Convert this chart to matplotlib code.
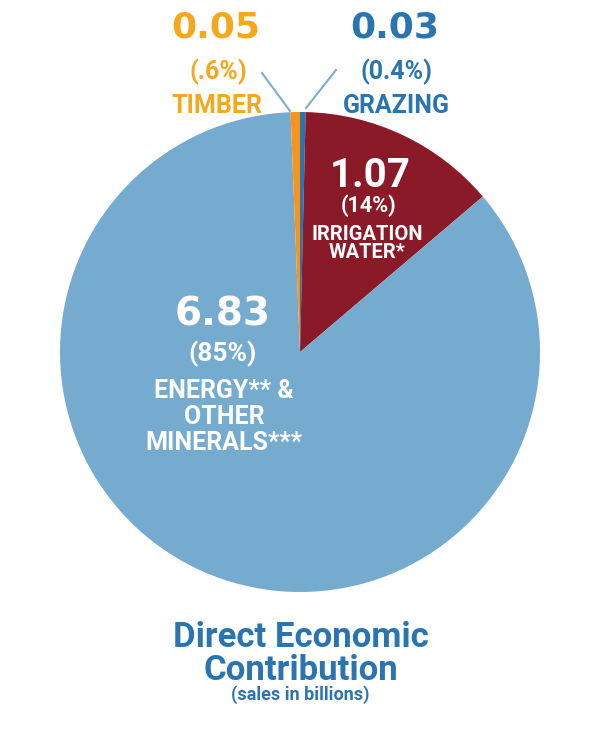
import matplotlib.pyplot as plt

plt.rcParams["font.family"] = ["Roboto", "DejaVu Sans"]

# Data (billions of dollars in sales)
names = ["GRAZING", "IRRIGATION WATER*", "ENERGY & OTHER MINERALS", "TIMBER"]
values = [0.03, 1.07, 6.83, 0.05]
pct_labels = ["(0.4%)", "(14%)", "(85%)", "(.6%)"]
label_lines = [["GRAZING"], ["IRRIGATION", "WATER*"], ["ENERGY** &", "OTHER", "MINERALS***"], ["TIMBER"]]
colors = ["#2a74b0", "#8b1a29", "#75abcf", "#f7941d"]

W, H = 601, 751
fig = plt.figure(figsize=(W / 100, H / 100), dpi=100)
ax = fig.add_axes([0, 0, 1, 1])

def Y(y):
    # convert top-down pixel y into axis y
    return H - y

ax.pie(values, colors=colors, startangle=90, counterclock=False,
       center=(300, Y(352)), radius=240,
       wedgeprops=dict(linewidth=0))
ax.set_xlim(0, W)
ax.set_ylim(0, H)
ax.set_aspect("equal")
ax.axis("off")

white = "white"
gold = "#f5a81c"
blue = "#2a74b0"
line_c = "#7aaed0"

def label(x, y, s, size, color, family=None):
    kw = dict(ha="center", va="baseline", fontsize=size, fontweight="bold", color=color)
    if family:
        kw["family"] = family
    ax.text(x, Y(y), s, **kw)

# Energy label
label(223, 325, f"{values[2]:.2f}", 28, white, "DejaVu Sans")
label(223, 361, pct_labels[2], 19, white)
for txt, yb in zip(label_lines[2], [398, 424, 450]):
    label(224, yb, txt, 18, white)

# Irrigation label
label(370, 187, f"{values[1]:.2f}", 29, white)
label(369, 212, pct_labels[1], 15.5, white)
for txt, yb in zip(label_lines[1], [240, 258]):
    label(367, yb, txt, 14.5, white)

# Timber label
label(216, 38, f"{values[3]:.2f}", 26, gold, "DejaVu Sans")
label(218, 79, pct_labels[3], 18, gold)
label(217, 113, label_lines[3][0], 18, gold)

# Grazing label
label(395, 38, f"{values[0]:.2f}", 26, blue, "DejaVu Sans")
label(396, 79, pct_labels[0], 18, blue)
label(396, 113, label_lines[0][0], 18, blue)

# Leader lines
ax.plot([262, 290], [Y(73), Y(111)], color=line_c, linewidth=1.5)
ax.plot([336, 306], [Y(70), Y(108)], color=line_c, linewidth=1.5)

# Title
label(301, 647, "Direct Economic", 25, blue)
label(301, 680, "Contribution", 25, blue)
label(300, 700, "(sales in billions)", 13, blue)

fig.savefig("out.png", dpi=100)
